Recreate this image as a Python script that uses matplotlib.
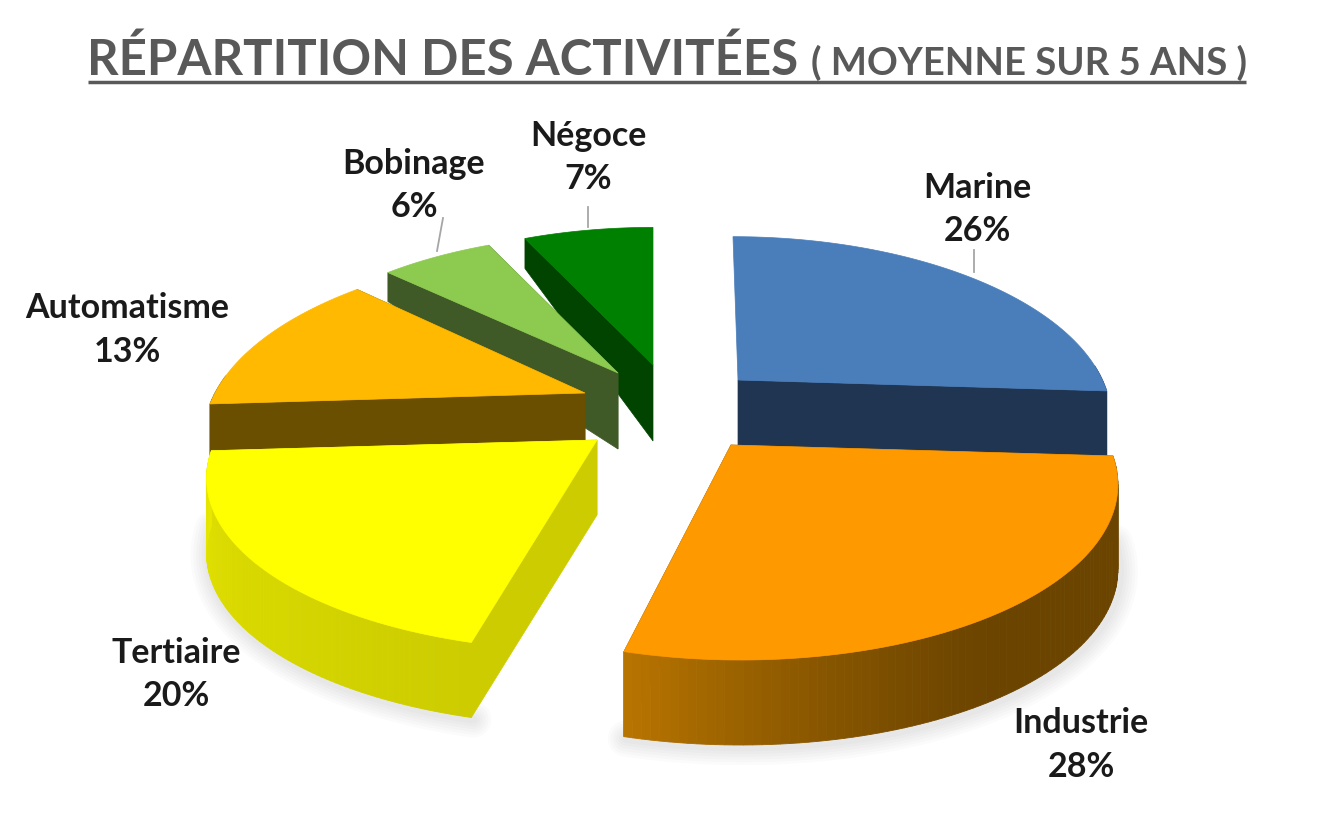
import numpy as np
import matplotlib
matplotlib.use("Agg")
import matplotlib.pyplot as plt
from matplotlib.colors import to_rgb

categories = ["Marine", "Industrie", "Tertiaire", "Automatisme", "Bobinage", "Négoce"]
values = [26, 28, 20, 13, 6, 7]

# look of each slice, same order as categories
top_colors = ["#4A7EBB", "#FF9900", "#FFFF00", "#FFB900", "#8CCB50", "#008000"]
wall_colors = ["#1F3552", "#6B4400", "#CCCC00", "#6B4F00", "#3F5A26", "#004400"]
rim_start = ["#1F3552", "#6B4400", "#CCCC00", "#6B4F00", "#3F5A26", "#004400"]
rim_mid = ["#1F3552", "#6B4400", "#D8D800", "#6B4F00", "#3F5A26", "#004400"]
rim_end = ["#1F3552", "#B87400", "#E8E800", "#6B4F00", "#3F5A26", "#004400"]
apex_x = [738, 731, 597, 585, 618, 653]
apex_y = [380, 445, 440, 393, 373, 365]
scale_x = [0.985, 1.02, 1.03, 1.0, 0.97, 0.96]
scale_y = [1.0, 1.0, 0.98, 1.0, 0.97, 0.96]
shear = [0.035, 0.045, -0.04, -0.09, 0.0, 0.0]
depth_apex = [65, 80, 75, 70, 76, 76]
depth_rim = [65, 85, 75, 60, 29, 30]
draw_order = [5, 4, 0, 3, 2, 1]

label_x = [977, 1081, 176, 127, 414, 588]
label_y = [188, 723, 653, 308, 164, 136]
pct_y = [231, 767, 696, 352, 207, 179]
leader_x = [[974, 974], [], [], [], [443, 437], [588, 588]]
leader_y = [[250, 272], [], [], [], [218, 251], [207, 227]]

RX, RY, PERSP = 370, 172, 0.2


def project(theta, i):
    w = 1 + PERSP * np.sin(theta)
    dy = -scale_y[i] * RY * np.sin(theta) / w
    x = apex_x[i] + scale_x[i] * RX * np.cos(theta) / w + shear[i] * dy
    return x, apex_y[i] + dy


plt.rcParams["font.family"] = ["Lato", "DejaVu Sans"]
fig = plt.figure(figsize=(13.26, 8.3), dpi=100)
ax = fig.add_axes([0, 0, 1, 1])
ax.set_xlim(0, 1326)
ax.set_ylim(830, 0)
ax.axis("off")

# slice angles, clockwise from the top
edges = np.pi / 2 - np.cumsum([0] + values) / sum(values) * 2 * np.pi

for i in draw_order:
    theta = np.linspace(edges[i], edges[i + 1], 90)
    x, y = project(theta, i)
    ax0, ay0 = apex_x[i], apex_y[i]
    z = 2 + draw_order.index(i)

    # soft shadow under the front slices
    if i in (1, 2):
        for lw in [26, 22, 18, 14, 10, 6]:
            ax.plot(x + 2, y + depth_rim[i] + 2, color="#555555", lw=lw, alpha=0.025,
                    solid_capstyle="round", zorder=1)

    # radial cut walls, skipped when the cut is seen edge on
    for j in (0, -1):
        if abs(x[j] - ax0) > 10:
            ax.fill([ax0, x[j], x[j], ax0], [ay0, y[j], y[j] + depth_rim[i], ay0 + depth_apex[i]],
                    color=wall_colors[i], lw=0.5, zorder=z)

    # outer wall, shaded along the arc
    c0, c1, c2 = np.array(to_rgb(rim_start[i])), np.array(to_rgb(rim_mid[i])), np.array(to_rgb(rim_end[i]))
    for k in range(len(x) - 1):
        t = k / (len(x) - 2)
        if t < 0.5:
            col = c0 + (c1 - c0) * t * 2
        else:
            col = c1 + (c2 - c1) * (t - 0.5) ** 1.5 * 2.83
        # back part of the rim is hidden by the top face
        if np.sin(theta[k]) < 0.1:
            ax.fill([x[k], x[k + 1], x[k + 1], x[k]],
                    [y[k], y[k + 1], y[k + 1] + depth_rim[i], y[k] + depth_rim[i]],
                    color=col, lw=0.6, zorder=z)

    ax.fill(np.r_[ax0, x], np.r_[ay0, y], color=top_colors[i], lw=0.5, zorder=z)

for i, name in enumerate(categories):
    ax.text(label_x[i], label_y[i], name, fontsize=24.5, fontweight="bold", color="#1A1A1A",
            ha="center", va="center", zorder=20)
    ax.text(label_x[i], pct_y[i], f"{values[i]}%", fontsize=24.5, fontweight="bold",
            color="#1A1A1A", ha="center", va="center", zorder=20)
    if leader_x[i]:
        ax.plot(leader_x[i], leader_y[i], color="#A6A6A6", lw=1.3, zorder=20)

ax.text(87, 75, "RÉPARTITION DES ACTIVITÉES", fontsize=35.4, fontweight="bold",
        color="#595959", ha="left", va="baseline")
ax.text(811, 75, "( MOYENNE SUR 5 ANS )", fontsize=27.5, fontweight="bold",
        color="#595959", ha="left", va="baseline")
ax.plot([88, 1246], [82, 82], color="#595959", lw=2.5, solid_capstyle="butt")

plt.savefig("out.png", dpi=100)
